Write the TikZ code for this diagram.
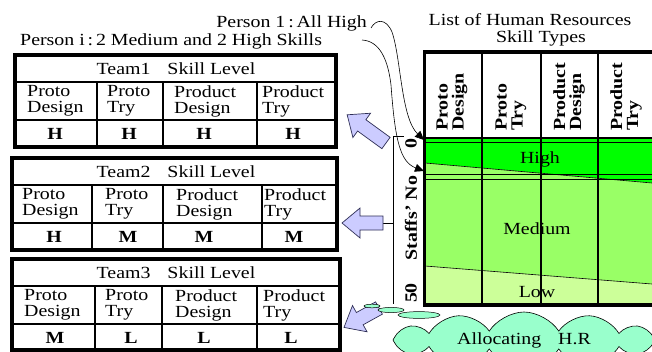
\documentclass[tikz,border=0pt]{standalone}
\usepackage{fontspec}
\setmainfont{Liberation Serif}[FakeStretch=1.17]
\usetikzlibrary{shapes.symbols,arrows.meta}
\definecolor{hgreen}{HTML}{00FF00}
\definecolor{mgreen}{HTML}{99FF66}
\definecolor{lgreen}{HTML}{CCFF99}
\definecolor{mint}{HTML}{99FFCC}
\definecolor{lav}{HTML}{CCCCFF}
\definecolor{lavedge}{HTML}{2E2E55}
\newcommand\BArrow[3]{%
  \draw[barrow, shift={#1}, rotate=#2] (0,-7) -- ({#3-18},-7) -- ({#3-18},-15) -- (#3,0) -- ({#3-18},15) -- ({#3-18},7) -- (0,7) -- cycle;}
\begin{document}
\begin{tikzpicture}[x=1pt,y=-1pt,
  font=\fontsize{17}{16}\selectfont,
  every node/.style={inner sep=0pt},
  frame/.style={line width=3.2pt, line join=miter},
  grid/.style={line width=1.1pt},
  thinl/.style={line width=0.6pt},
  hdr/.style={anchor=west, align=left},
  val/.style={font=\fontsize{17}{16}\selectfont\bfseries},
  rhdr/.style={rotate=90, anchor=west, align=left, font=\fontsize{17}{16}\selectfont\bfseries},
  ylab/.style={rotate=90, font=\fontsize{17}{16}\selectfont\bfseries},
  barrow/.style={fill=lav, draw=lavedge, line width=0.7pt, line join=miter},
  curv/.style={line width=0.6pt, -{Triangle[length=9pt,width=8pt]}},
  bubble/.style={fill=mint, draw=black, line width=0.5pt}]
\useasboundingbox (0,0) rectangle (652,351);
\clip (0,0) rectangle (652,351);
\fill[white] (0,0) rectangle (652,351);

% ---------- titles ----------
\node[anchor=base east] (p1) at (367,27) {Person 1\,:\,All High};
\node[anchor=base west] (pi) at (20,45) {Person i\,:\,2 Medium and 2 High Skills};
\node[anchor=base] (list) at (530,25) {List of Human Resources};
\node[anchor=base] (types) at (541,42) {Skill Types};

% ---------- Team 1 ----------
\draw[grid] (15,82) -- (336,82) (15,120) -- (336,120)
            (97,82) -- (97,147) (163,82) -- (163,147) (257,82) -- (257,147);
\draw[frame] (15,55) rectangle (336,147);
\node (t1) at (176,69) {Team1\quad Skill Level};
\node[hdr] (t1a) at (27,101) {Proto\\Design};
\node[hdr] (t1b) at (107,101) {Proto\\Try};
\node[hdr] (t1c) at (174,101) {Product\\Design};
\node[hdr] (t1d) at (262,101) {Product\\Try};
\node[val] (t1va) at (55,134) {H};
\node[val] (t1vb) at (129,134) {H};
\node[val] (t1vc) at (204,134) {H};
\node[val] (t1vd) at (293,134) {H};

% ---------- Team 2 ----------
\draw[grid] (12,185) -- (337,185) (12,223) -- (337,223)
            (92,185) -- (92,250) (163,185) -- (163,250) (262,185) -- (262,250);
\draw[frame] (12,158) rectangle (337,250);
\node (t2) at (176,172) {Team2\quad Skill Level};
\node[hdr] (t2a) at (22,204) {Proto\\Design};
\node[hdr] (t2b) at (105,204) {Proto\\Try};
\node[hdr] (t2c) at (176,204) {Product\\Design};
\node[hdr] (t2d) at (264,204) {Product\\Try};
\node[val] (t2va) at (54,237) {H};
\node[val] (t2vb) at (128,237) {M};
\node[val] (t2vc) at (204,237) {M};
\node[val] (t2vd) at (294,237) {M};

% ---------- Team 3 ----------
\draw[grid] (12,286) -- (340,286) (12,324) -- (340,324)
            (95,286) -- (95,351) (162,286) -- (162,351) (257,286) -- (257,351);
\draw[frame] (12,259) rectangle (340,350);
\node (t3) at (176,273) {Team3\quad Skill Level};
\node[hdr] (t3a) at (24,305) {Proto\\Design};
\node[hdr] (t3b) at (105,305) {Proto\\Try};
\node[hdr] (t3c) at (175,305) {Product\\Design};
\node[hdr] (t3d) at (263,305) {Product\\Try};
\node[val] (t3va) at (55,338) {M};
\node[val] (t3vb) at (131,338) {L};
\node[val] (t3vc) at (204,338) {L};
\node[val] (t3vd) at (291,338) {L};

% ---------- chart ----------
\fill[hgreen] (425,139) -- (652,139) -- (652,183) -- (425,163) -- cycle;
\fill[mgreen] (425,163) -- (652,183) -- (652,284) -- (425,266) -- cycle;
\fill[lgreen] (425,266) -- (652,284) -- (652,305) -- (425,305) -- cycle;
\draw[thinl] (425,163) -- (652,183) (425,266) -- (652,284);
\draw[thinl] (425,142) -- (652,142) (425,174) -- (652,174) (425,179) -- (652,179);
\draw[grid] (482,52) -- (482,305) (541,52) -- (541,305) (598,52) -- (598,305);
\draw[line width=2.4pt] (425,138) -- (652,138);
\draw[frame] (656,52) -- (424.6,52) -- (424.6,305) -- (656,305);

\node[rhdr] (hpd) at (452,131) {Proto\\Design};
\node[rhdr] (hpt) at (511,131) {Proto\\Try};
\node[rhdr] (hqd) at (569,131) {Product\\Design};
\node[rhdr] (hqt) at (626,131) {Product\\Try};

\node (high) at (540,159) {High};
\node (medium) at (537,229) {Medium};
\node (low) at (537,292) {Low};

\node[ylab] (y0) at (411,144) {0};
\node[ylab] (ystaff) at (411,218) {Staffs’ No};
\node[ylab] (y50) at (411,293) {50};

% bracket
\coordinate (brtop) at (404,136);
\coordinate (brbot) at (393,304);
\coordinate (brmid) at (393,223);
\draw[thinl] (brtop) -- (393,136) -- (brbot);
\draw[thinl] (brmid) -- (383,223);

% ---------- block arrows ----------
\BArrow{(386,143)}{144}{48}
\BArrow{(383,223)}{180}{41}
\BArrow{(379,308)}{209}{40}

% ---------- curved arrows ----------
\coordinate (p1end) at (424,140);
\coordinate (pis) at (362,40);
\coordinate (piend) at (424,171);
\draw[curv] ([xshift=4pt,yshift=-5pt]p1.east) .. controls (376,19) and (386,18) .. (392,32)
   .. controls (401,58) and (401,118) .. (p1end);
\draw[curv] (pis) .. controls (380,41) and (388,60) .. (391,85)
   .. controls (395,140) and (400,162) .. (piend);

% ---------- cloud ----------
\draw[bubble] (372,306) ellipse [x radius=8, y radius=1.8];
\draw[bubble] (391,310) ellipse [x radius=13, y radius=2.6];
\draw[bubble] (419,315) ellipse [x radius=21, y radius=3.4];
\node[cloud, cloud puffs=12, cloud puff arc=115, cloud ignores aspect, draw=black, line width=0.6pt, fill=mint,
      minimum width=262pt, minimum height=56pt] (alloc) at (524,340) {Allocating\quad H.R};
\end{tikzpicture}
\end{document}
